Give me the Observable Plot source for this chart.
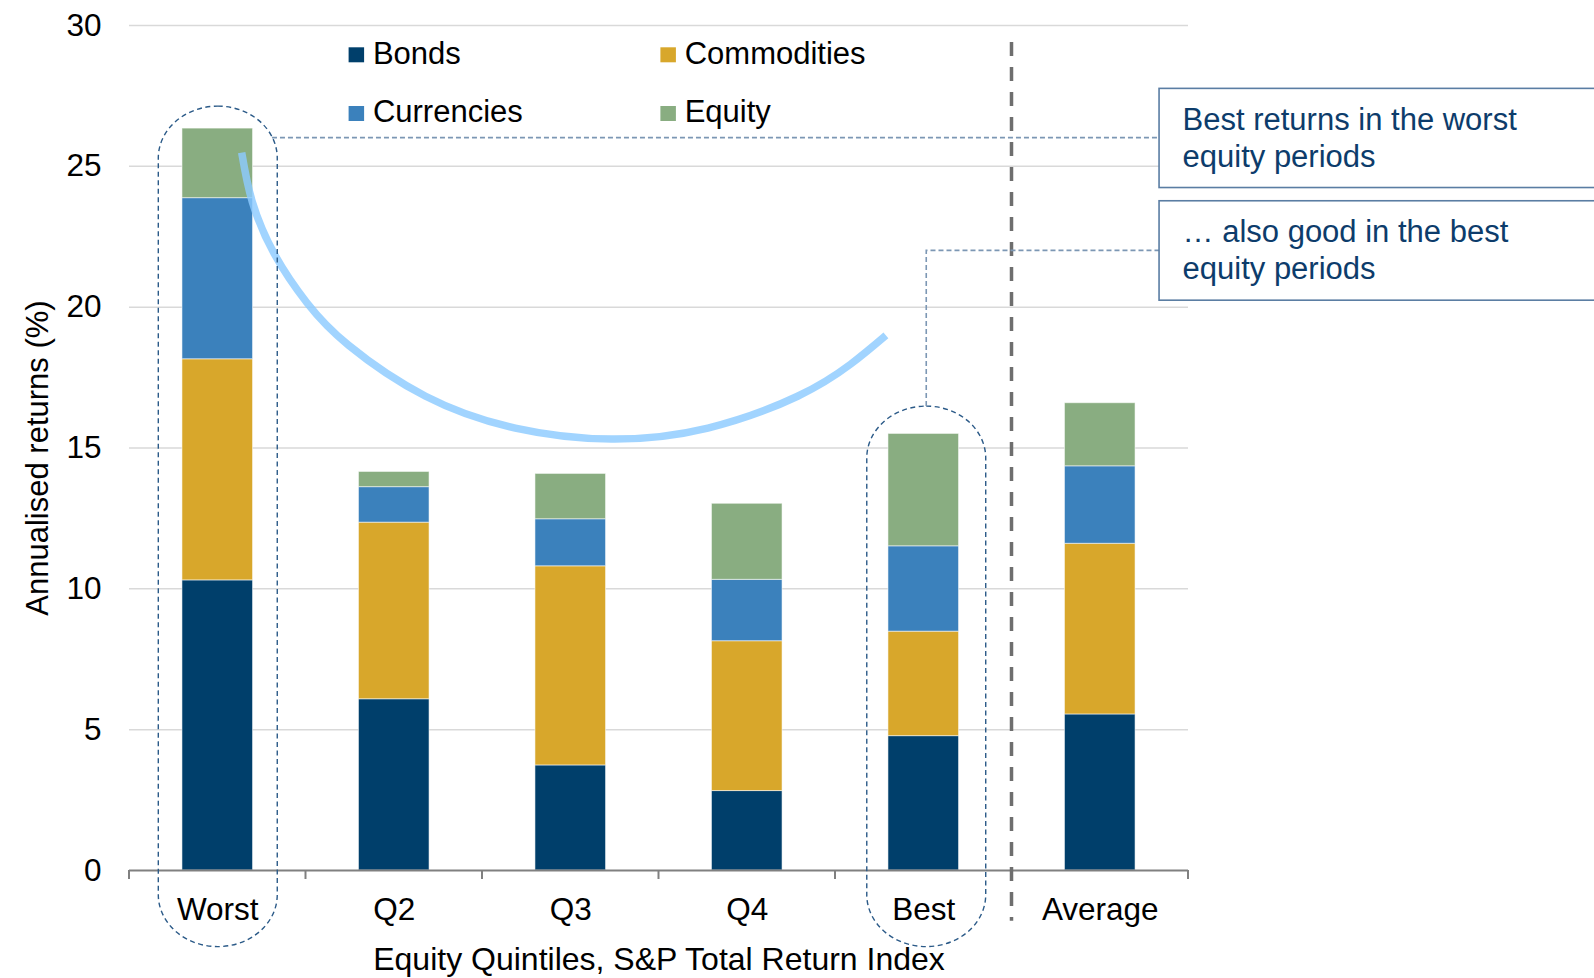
<!DOCTYPE html>
<html><head><meta charset="utf-8">
<script src="https://cdn.jsdelivr.net/npm/d3@7"></script>
<script src="https://cdn.jsdelivr.net/npm/@observablehq/plot@0.6"></script>
<style>body{margin:0;background:#fff;} svg{display:block}</style>
</head><body><div id="chart"></div>
<script>
// ---- data ----
const categories = ["Worst", "Q2", "Q3", "Q4", "Best", "Average"];
const seriesNames = ["Bonds", "Commodities", "Currencies", "Equity"];
const seriesColors = ["#003f6b", "#d8a72b", "#3b81bc", "#89ad81"];
const bonds       = [10.30, 6.08, 3.73, 2.82, 4.77, 5.54];
const commodities = [7.85, 6.27, 7.07, 5.32, 3.71, 6.06];
const currencies  = [5.72, 1.26, 1.67, 2.18, 3.03, 2.75];
const equity      = [2.47, 0.54, 1.61, 2.70, 3.99, 2.24];
const yTicks = [0, 5, 10, 15, 20, 25, 30];
const xTitle = "Equity Quintiles, S&P Total Return Index";
const yTitle = "Annualised returns (%)";
const note1 = ["Best returns in the worst", "equity periods"];
const note2 = ["\u2026 also good in the best", "equity periods"];
// highlight arc (category-position units from the first band centre, value units)
const curveIdx = [0.1385, 0.1986, 0.3244, 0.5079, 0.7442, 1.1805, 1.6887, 2.2343, 2.7799, 3.2881, 3.5889, 3.7884];
const curveVal = [25.47, 23.72, 21.86, 20.14, 18.63, 16.82, 15.69, 15.30, 15.69, 16.82, 17.96, 18.98];

const seriesValues = [bonds, commodities, currencies, equity];
const rows = [];
seriesNames.forEach((s, si) => categories.forEach((c, ci) =>
  rows.push({category: c, series: s, value: seriesValues[si][ci]})));

const FONT = "'Liberation Sans', Arial, Helvetica, sans-serif";

const plot = Plot.plot({
  width: 1594, height: 978,
  marginLeft: 129, marginRight: 406, marginTop: 25, marginBottom: 108,
  style: {fontFamily: FONT, fontSize: "31px", color: "#000", background: "#fff", overflow: "visible"},
  x: {domain: categories, paddingInner: 0.6, paddingOuter: 0.3, round: false},
  y: {domain: [0, 30]},
  color: {domain: seriesNames, range: seriesColors},
  marks: [
    Plot.gridY(yTicks.filter(t => t > 0), {stroke: "#d9d9d9", strokeOpacity: 1, strokeWidth: 1.5}),
    Plot.axisY(yTicks, {tickSize: 0, tickPadding: 28, fontSize: 31.5, fill: "#000", label: null}),
    Plot.axisX({tickSize: 0, tickPadding: 27, fontSize: 31.5, fill: "#000", label: null}),
    Plot.barY(rows, {x: "category", y: "value", fill: "series", stroke: "#ffffff", strokeOpacity: 0.55, strokeWidth: 1}),
    Plot.ruleY([0], {stroke: "#808080", strokeWidth: 2}),
    Plot.text([xTitle], {text: d => d, frameAnchor: "bottom", dy: 89, fontSize: 32, fill: "#000", lineAnchor: "middle", textAnchor: "middle"}),
    Plot.text([yTitle], {text: d => d, frameAnchor: "left", rotate: -90, dx: -91, dy: 10, fontSize: 31, fill: "#000", lineAnchor: "middle", textAnchor: "middle"})
  ]
});

document.getElementById("chart").appendChild(plot);

// ---- annotations through the plot's scales ----
const svg = d3.select(plot);
const xs = plot.scale("x"), ys = plot.scale("y");
const step = xs.step, bw = xs.bandwidth;
const x0 = xs.apply(categories[0]) + bw / 2;
const X = idx => x0 + idx * step;
const Y = v => ys.apply(v);
const g = svg.append("g").attr("text-anchor", "start");

// category boundary ticks
d3.range(0, categories.length + 1).forEach(k => {
  g.append("line").attr("x1", X(k - 0.5)).attr("x2", X(k - 0.5))
    .attr("y1", Y(0)).attr("y2", Y(0) + 9)
    .attr("stroke", "#808080").attr("stroke-width", 2);
});

// separator between Best and Average
g.append("line").attr("x1", X(4.5)).attr("x2", X(4.5))
  .attr("y1", Y(29.4)).attr("y2", Y(-1.8))
  .attr("stroke", "#6e6e6e").attr("stroke-width", 3.5).attr("stroke-dasharray", "14,11");

// highlight arc
const line = d3.line().curve(d3.curveNatural).x(d => X(d[0])).y(d => Y(d[1]));
g.append("path").attr("d", line(curveIdx.map((v, i) => [v, curveVal[i]])))
  .attr("fill", "none").attr("stroke", "#8ccbff").attr("stroke-opacity", 0.82)
  .attr("stroke-width", 7.5).attr("stroke-linecap", "butt");

// stadium outlines
function stadium(idx, top, bottom) {
  const w = 0.674 * step;
  g.append("rect").attr("x", X(idx) - w / 2).attr("y", Y(top))
    .attr("width", w).attr("height", Y(bottom) - Y(top))
    .attr("rx", w / 2).attr("ry", 52)
    .attr("fill", "none").attr("stroke", "#2b5a88").attr("stroke-width", 1.4)
    .attr("stroke-dasharray", "5,3.5");
}
stadium(0.003, 27.12, -2.72);
stadium(4.017, 16.47, -2.72);

// leader lines
const leader = "#7c97b4";
g.append("line").attr("x1", X(0.31)).attr("x2", X(5.336))
  .attr("y1", Y(26.0)).attr("y2", Y(26.0))
  .attr("stroke", leader).attr("stroke-width", 1.6).attr("stroke-dasharray", "5,3");
g.append("path")
  .attr("d", `M${X(4.017)},${Y(16.47)}V${Y(22.0)}H${X(5.336)}`)
  .attr("fill", "none").attr("stroke", leader).attr("stroke-width", 1.6).attr("stroke-dasharray", "5,3");

// note boxes
function noteBox(top, bottom, lines) {
  const bx = X(5.336);
  g.append("rect").attr("x", bx).attr("y", Y(top))
    .attr("width", 1594 - bx + 20).attr("height", Y(bottom) - Y(top))
    .attr("fill", "#fff").attr("stroke", "#5a7da3").attr("stroke-width", 1.6);
  const t = g.append("text").attr("font-family", FONT).attr("font-size", 31)
    .attr("text-anchor", "start").attr("fill", "#0d3c6b");
  lines.forEach((s, i) => t.append("tspan").attr("x", bx + 23.5).attr("y", Y(top) + 41.5 + i * 37).text(s));
}
noteBox(27.75, 24.23, note1);
noteBox(23.76, 20.23, note2);

// legend (2 x 2)
const legX = [348.6, 660.4], legY = [47.3, 106];
seriesNames.forEach((s, i) => {
  const col = i % 2, row = Math.floor(i / 2);
  g.append("rect").attr("x", legX[col]).attr("y", legY[row]).attr("width", 15.5).attr("height", 15)
    .attr("fill", seriesColors[i]);
  g.append("text").attr("x", legX[col] + 24.3).attr("y", legY[row] + 16.3)
    .attr("text-anchor", "start")
    .attr("font-family", FONT).attr("font-size", 31).attr("fill", "#000").text(s);
});
</script>
</body></html>
